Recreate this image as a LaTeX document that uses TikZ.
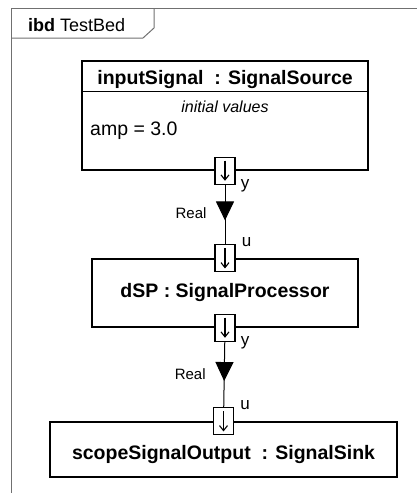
\documentclass[tikz,border=0pt]{standalone}
\usepackage{fontspec}
\setmainfont{Liberation Sans}
\usetikzlibrary{arrows.meta,positioning,calc,decorations.markings}
\definecolor{ibdFrame}{HTML}{707070}

\begin{document}
\begin{tikzpicture}[x=1pt,y=-1pt,
    blk/.style={draw,line width=1.3pt,fill=white,inner sep=0pt},
    blkname/.style={anchor=base,inner sep=0pt,font=\fontsize{19.5}{23}\selectfont\bfseries},
    port/.style={draw,line width=1.2pt,fill=white,minimum width=20pt,minimum height=27pt,inner sep=0pt},
    portdir/.style={line width=1.1pt,-{Straight Barb[length=5pt,width=8pt]}},
    portlbl/.style={anchor=base west,inner sep=0pt,font=\fontsize{17}{20}\selectfont},
    flow/.style={line width=1pt,postaction={decorate},
      decoration={markings,mark=at position 0.6 with {\arrow{Triangle[length=19pt,width=18pt]}}}},
    flowlbl/.style={anchor=base east,inner sep=0pt,font=\fontsize{15}{18}\selectfont}]
  \useasboundingbox (0,0) rectangle (417,493);

  % diagram frame and header tab
  \draw[ibdFrame,line width=1pt] (11,493) -- (11,8) -- (417,8);
  \draw[ibdFrame,line width=1pt] (11,38) -- (143,38) -- (154,28) -- (154,8);
  \node[anchor=base west,inner sep=0pt,font=\fontsize{18}{21}\selectfont] (hdr) at (28,31) {\textbf{ibd} TestBed};

  % parts
  \node[blk,minimum width=286pt,minimum height=109pt] (src) at (225,115.5) {};
  \node[blkname] (srcname) at (225,84) {inputSignal\ \ : SignalSource};
  \draw[line width=1.3pt] ([yshift=-31pt]src.north west) -- ([yshift=-31pt]src.north east);
  \node[anchor=base,inner sep=0pt,font=\fontsize{16}{19}\selectfont\itshape] (ivals) at (225,112) {initial values};
  \node[anchor=base west,inner sep=0pt,font=\fontsize{19.5}{23}\selectfont] (amp) at (90,135) {amp = 3.0};

  \node[blk,minimum width=266pt,minimum height=68pt] (dsp) at (225,293) {};
  \node[blkname] (dspname) at (225,297) {dSP : SignalProcessor};

  \node[blk,minimum width=347pt,minimum height=55pt] (sink) at (223.5,449.5) {};
  \node[blkname] (sinkname) at (223.5,459) {scopeSignalOutput\ \ : SignalSink};

  % ports
  \node[port] (srcy) at (src.south) {};
  \node[port] (dspu) at (dsp.north) {};
  \node[port] (dspy) at (dsp.south) {};
  \node[port] (sinku) at (sink.north) {};
  \foreach \p in {srcy,dspu,dspy,sinku}
    \draw[portdir] ([yshift=-4pt]\p.north) -- ([yshift=4pt]\p.south);

  \node[portlbl] (ylbl1) at ([xshift=5pt,yshift=-4pt]srcy.south east) {y};
  \node[portlbl] (ulbl1) at ([xshift=6pt,yshift=-2pt]dspu.north east) {u};
  \node[portlbl] (ylbl2) at ([xshift=5pt,yshift=-4pt]dspy.south east) {y};
  \node[portlbl] (ulbl2) at ([xshift=6pt,yshift=-2pt]sinku.north east) {u};

  % item flows
  \draw[flow] (srcy) -- node[flowlbl,pos=0.6,xshift=-18pt,yshift=2pt] (real1) {Real} (dspu);
  \draw[flow] (dspy) -- node[flowlbl,pos=0.6,xshift=-18pt,yshift=2pt] (real2) {Real} (sinku);
\end{tikzpicture}
\end{document}
